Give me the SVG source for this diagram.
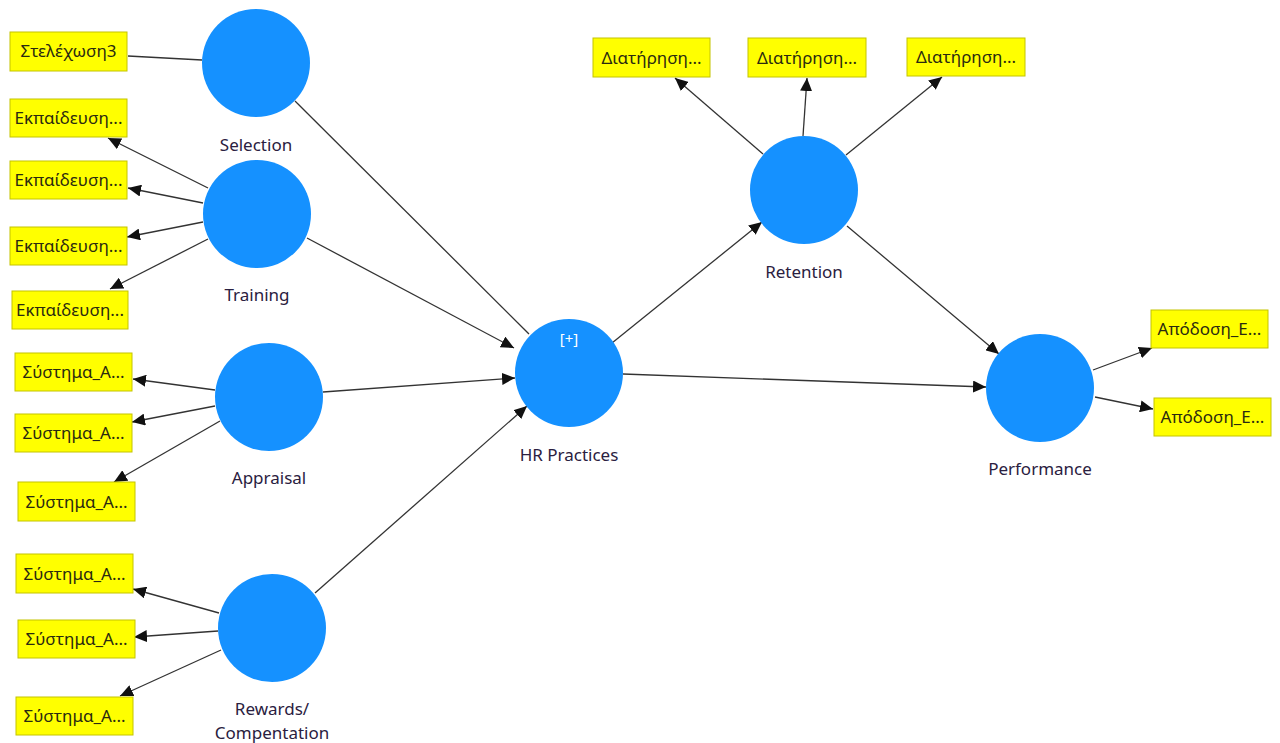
<svg xmlns="http://www.w3.org/2000/svg" width="1280" height="743" viewBox="0 0 1280 743">
<style>
.c{fill:#1591ff;}
.b{fill:#ffff00;stroke:#c4c400;stroke-width:1;}
.bt{font-family:"Noto Sans","Liberation Sans",sans-serif;font-size:17px;fill:#2a2a10;text-anchor:middle;}
.lt{font-family:"Noto Sans","Liberation Sans",sans-serif;font-size:17px;fill:#2a2040;text-anchor:middle;}
.e{stroke:#333;stroke-width:1.3;fill:none;}
.a{marker-end:url(#ah);}
</style>
<defs>
<marker id="ah" markerUnits="userSpaceOnUse" markerWidth="14" markerHeight="12" refX="13" refY="6" orient="auto" viewBox="0 0 14 12">
<path d="M0,0 L13,6 L0,12 z" fill="#111"/>
</marker>
</defs>
<rect width="1280" height="743" fill="#fff"/>
<g id="connectors">
<line class="e" x1="128" y1="56" x2="202" y2="60"/>
<line class="e" x1="295" y1="101" x2="529" y2="334"/>
<line class="e a" x1="208" y1="188" x2="108" y2="138"/>
<line class="e a" x1="203" y1="203" x2="128" y2="188"/>
<line class="e a" x1="203" y1="222" x2="127" y2="237"/>
<line class="e a" x1="208" y1="239" x2="110" y2="289"/>
<line class="e a" x1="307" y1="238" x2="514" y2="348"/>
<line class="e a" x1="323" y1="392" x2="515" y2="378"/>
<line class="e a" x1="315" y1="593" x2="527" y2="406"/>
<line class="e a" x1="215" y1="390" x2="133" y2="379"/>
<line class="e a" x1="215" y1="406" x2="132" y2="422"/>
<line class="e a" x1="220" y1="421" x2="114" y2="482"/>
<line class="e a" x1="219" y1="613" x2="133" y2="589"/>
<line class="e a" x1="218" y1="631" x2="134" y2="637"/>
<line class="e a" x1="221" y1="650" x2="120" y2="696"/>
<line class="e a" x1="612" y1="343" x2="762" y2="222"/>
<line class="e a" x1="763" y1="154" x2="675" y2="78"/>
<line class="e a" x1="803" y1="136" x2="807" y2="78"/>
<line class="e a" x1="846" y1="155" x2="942" y2="77"/>
<line class="e a" x1="847" y1="226" x2="999" y2="354"/>
<line class="e a" x1="623" y1="374" x2="986" y2="387"/>
<line class="e a" x1="1093" y1="370" x2="1152" y2="348"/>
<line class="e a" x1="1095" y1="397" x2="1153" y2="409"/>
</g>
<g id="selection"><circle class="c" cx="256" cy="63" r="54"/><text class="lt" x="256" y="151">Selection</text></g>
<g id="training"><circle class="c" cx="257" cy="214" r="54"/><text class="lt" x="257" y="301">Training</text></g>
<g id="appraisal"><circle class="c" cx="269" cy="397" r="54"/><text class="lt" x="269" y="484">Appraisal</text></g>
<g id="rewards"><circle class="c" cx="272" cy="628" r="54"/><text class="lt" x="272" y="715">Rewards/</text><text class="lt" x="272" y="739">Compentation</text></g>
<g id="hr"><circle class="c" cx="569" cy="373" r="54"/><text class="lt" x="569" y="344" style="fill:#fff;font-size:15px">[+]</text><text class="lt" x="569" y="461">HR Practices</text></g>
<g id="retention"><circle class="c" cx="804" cy="190" r="54"/><text class="lt" x="804" y="278">Retention</text></g>
<g id="performance"><circle class="c" cx="1040" cy="388" r="54"/><text class="lt" x="1040" y="475">Performance</text></g>
<g id="i1"><rect class="b" x="10" y="32" width="117" height="39"/><text class="bt" x="68.5" y="57">Στελέχωση3</text></g>
<g id="i2"><rect class="b" x="10" y="99" width="117" height="38"/><text class="bt" x="68.5" y="124">Εκπαίδευση...</text></g>
<g id="i3"><rect class="b" x="10" y="161" width="117" height="38"/><text class="bt" x="68.5" y="186">Εκπαίδευση...</text></g>
<g id="i4"><rect class="b" x="10" y="227" width="117" height="38"/><text class="bt" x="68.5" y="252">Εκπαίδευση...</text></g>
<g id="i5"><rect class="b" x="12" y="291" width="116" height="38"/><text class="bt" x="70" y="316">Εκπαίδευση...</text></g>
<g id="i6"><rect class="b" x="15" y="353" width="117" height="38"/><text class="bt" x="73.5" y="378">Σύστημα_Α...</text></g>
<g id="i7"><rect class="b" x="15" y="414" width="117" height="38"/><text class="bt" x="73.5" y="439">Σύστημα_Α...</text></g>
<g id="i8"><rect class="b" x="18" y="482" width="117" height="39"/><text class="bt" x="76.5" y="508">Σύστημα_Α...</text></g>
<g id="i9"><rect class="b" x="16" y="554" width="117" height="39"/><text class="bt" x="74.5" y="580">Σύστημα_Α...</text></g>
<g id="i10"><rect class="b" x="18" y="620" width="117" height="38"/><text class="bt" x="76.5" y="645">Σύστημα_Α...</text></g>
<g id="i11"><rect class="b" x="16" y="697" width="117" height="38"/><text class="bt" x="74.5" y="722">Σύστημα_Α...</text></g>
<g id="i12"><rect class="b" x="593" y="38" width="117" height="39"/><text class="bt" x="651.5" y="64">Διατήρηση...</text></g>
<g id="i13"><rect class="b" x="748" y="38" width="118" height="39"/><text class="bt" x="807" y="64">Διατήρηση...</text></g>
<g id="i14"><rect class="b" x="907" y="38" width="118" height="38"/><text class="bt" x="966" y="63">Διατήρηση...</text></g>
<g id="i15"><rect class="b" x="1151" y="310" width="117" height="38"/><text class="bt" x="1209.5" y="335">Απόδοση_Ε...</text></g>
<g id="i16"><rect class="b" x="1154" y="398" width="117" height="38"/><text class="bt" x="1212.5" y="423">Απόδοση_Ε...</text></g>
</svg>
